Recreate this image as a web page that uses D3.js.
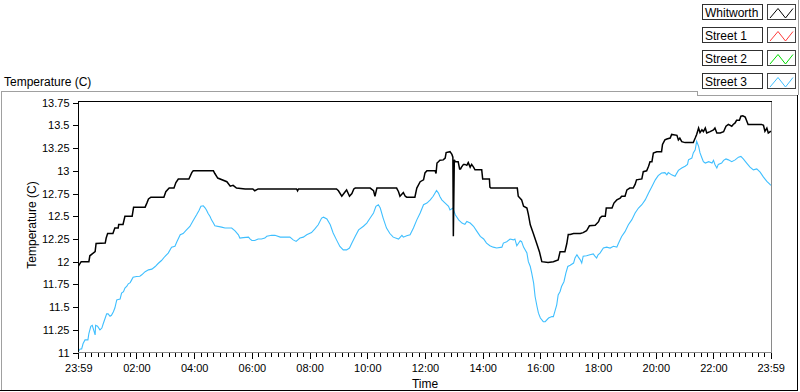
<!DOCTYPE html>
<html>
<head>
<meta charset="utf-8">
<script src="https://cdn.jsdelivr.net/npm/d3@7"></script>
<style>
  html, body { margin: 0; padding: 0; background: #ffffff; }
  svg { display: block; }
  text { font-family: "Liberation Sans", Arial, sans-serif; fill: #000; }
</style>
</head>
<body>
<svg id="chart" width="800" height="392"></svg>
<script>
// ---- data (time in minutes after 00:00; -1 = 23:59 of previous day) ----
const seriesNames = ["Whitworth", "Street 1", "Street 2", "Street 3"];
const seriesColors = ["#000000", "#ff3a3a", "#00dd00", "#3fbfff"];

const whitworth = [
  [-1,11.95],[5,12.0],[21,12.0],[23,12.065],[34,12.11],[36,12.2],[55,12.205],[57,12.26],[60,12.31],[71,12.31],
  [75,12.37],[82,12.37],[83,12.41],[92,12.41],[96,12.5],[111,12.5],[114,12.6],[138,12.6],[142,12.65],[145,12.69],
  [150,12.71],[177,12.71],[181,12.77],[188,12.81],[198,12.81],[202,12.87],[207,12.91],[229,12.91],[235,12.98],[238,13.0],
  [280,13.0],[283,12.97],[289,12.92],[308,12.88],[315,12.83],[321,12.84],[328,12.81],[346,12.8],[362,12.8],[366,12.78],
  [373,12.8],[453,12.8],[455,12.78],[457,12.8],[536,12.8],[540,12.78],[547,12.72],[554,12.77],[557,12.79],[563,12.72],
  [568,12.75],[572,12.8],[575,12.81],[606,12.81],[613,12.78],[616,12.72],[620,12.81],[661,12.81],[665,12.77],[668,12.72],
  [675,12.76],[679,12.72],[682,12.71],[699,12.71],[703,12.81],[710,12.88],[717,12.9],[720,12.976],[724,13.0],[741,13.0],
  [743,12.97],[745,13.085],[748,13.1],[751,13.115],[758,13.12],[762,13.14],[764,13.2],[772,13.21],[776,13.18],[778,13.15],
  [779,12.28],[781,13.12],[783,13.1],[789,13.1],[792,13.02],[794,13.02],[796,13.04],[800,13.07],[803,13.07],[807,13.06],
  [810,13.09],[814,13.04],[817,13.07],[821,13.04],[824,13.01],[838,13.01],[840,12.91],[854,12.91],[855,12.82],[857,12.81],
  [912,12.81],[914,12.72],[921,12.68],[925,12.61],[932,12.59],[935,12.52],[939,12.406],[945,12.315],[952,12.205],[958,12.11],
  [963,12.0],[976,11.99],[987,12.0],[997,12.02],[1001,12.11],[1011,12.11],[1015,12.2],[1018,12.3],[1022,12.3],[1029,12.31],
  [1043,12.31],[1049,12.32],[1056,12.34],[1062,12.395],[1074,12.4],[1081,12.44],[1084,12.48],[1088,12.5],[1095,12.5],[1097,12.59],
  [1109,12.59],[1113,12.645],[1119,12.68],[1126,12.7],[1129,12.72],[1136,12.72],[1140,12.79],[1146,12.81],[1153,12.81],[1157,12.85],
  [1160,12.9],[1171,12.91],[1174,12.99],[1181,13.0],[1185,13.05],[1188,13.1],[1192,13.1],[1195,13.196],[1202,13.21],[1212,13.21],
  [1214,13.29],[1219,13.34],[1223,13.35],[1230,13.36],[1233,13.4],[1244,13.39],[1247,13.34],[1250,13.36],[1254,13.32],[1261,13.31],
  [1278,13.31],[1282,13.36],[1285,13.4],[1289,13.47],[1292,13.42],[1296,13.45],[1299,13.43],[1303,13.47],[1306,13.416],[1313,13.43],
  [1320,13.45],[1323,13.47],[1327,13.416],[1334,13.416],[1341,13.43],[1346,13.49],[1351,13.51],[1358,13.49],[1361,13.51],[1365,13.526],
  [1368,13.555],[1374,13.555],[1377,13.6],[1381,13.605],[1386,13.59],[1389,13.55],[1392,13.51],[1420,13.51],[1424,13.5],[1427,13.434],
  [1431,13.47],[1434,13.416],[1438,13.43],[1439,13.44]
];

const street3 = [
  [0,11.02],[3,11.04],[6,11.04],[9,11.1],[13,11.14],[19,11.14],[21,11.21],[25,11.29],[28,11.3],[32,11.23],
  [34,11.195],[35,11.3],[39,11.29],[44,11.25],[48,11.27],[51,11.32],[55,11.38],[58,11.426],[61,11.426],[65,11.4],
  [68,11.41],[72,11.45],[75,11.49],[79,11.58],[82,11.585],[86,11.59],[89,11.654],[93,11.67],[96,11.71],[100,11.73],
  [103,11.757],[107,11.77],[110,11.8],[113,11.83],[120,11.837],[127,11.84],[131,11.856],[138,11.89],[145,11.91],[152,11.918],
  [159,11.947],[165,11.98],[172,12.013],[179,12.057],[186,12.095],[193,12.16],[200,12.17],[204,12.22],[211,12.296],[217,12.31],
  [224,12.35],[231,12.388],[238,12.454],[245,12.516],[250,12.564],[254,12.61],[259,12.615],[263,12.59],[266,12.564],[269,12.53],
  [273,12.498],[276,12.46],[280,12.425],[283,12.395],[297,12.38],[304,12.37],[318,12.37],[325,12.34],[332,12.296],[335,12.26],
  [342,12.265],[353,12.27],[356,12.25],[360,12.233],[366,12.233],[373,12.25],[380,12.25],[387,12.26],[391,12.28],[401,12.29],
  [408,12.29],[419,12.27],[439,12.27],[446,12.24],[452,12.223],[460,12.26],[467,12.27],[474,12.296],[484,12.32],[491,12.36],
  [498,12.406],[505,12.48],[509,12.49],[516,12.47],[523,12.406],[529,12.315],[536,12.24],[543,12.167],[550,12.13],[557,12.13],
  [563,12.15],[568,12.205],[575,12.28],[582,12.35],[592,12.39],[599,12.425],[606,12.48],[613,12.535],[618,12.61],[623,12.627],
  [627,12.59],[633,12.48],[640,12.37],[647,12.31],[654,12.27],[665,12.249],[672,12.29],[675,12.27],[682,12.285],[689,12.296],
  [696,12.37],[703,12.46],[710,12.535],[717,12.627],[724,12.645],[731,12.68],[737,12.72],[744,12.784],[748,12.755],[751,12.718],
  [755,12.68],[762,12.645],[769,12.61],[772,12.57],[778,12.59],[783,12.516],[790,12.46],[797,12.425],[803,12.41],[807,12.443],
  [814,12.425],[821,12.39],[828,12.333],[835,12.278],[842,12.25],[848,12.205],[855,12.175],[862,12.16],[869,12.15],[880,12.16],
  [883,12.205],[890,12.22],[897,12.249],[904,12.24],[907,12.249],[911,12.175],[918,12.23],[921,12.22],[925,12.16],[932,12.095],
  [935,12.0],[939,11.947],[942,11.874],[946,11.764],[949,11.617],[953,11.507],[956,11.434],[960,11.38],[966,11.34],[970,11.34],
  [977,11.38],[984,11.396],[987,11.396],[990,11.45],[994,11.525],[997,11.635],[1001,11.672],[1004,11.727],[1009,11.78],[1013,11.874],
  [1017,11.947],[1022,11.96],[1029,11.985],[1032,12.04],[1036,12.076],[1039,12.05],[1043,12.02],[1046,11.985],[1049,12.06],[1056,12.065],
  [1063,12.076],[1070,12.085],[1073,12.065],[1077,12.04],[1080,12.076],[1084,12.095],[1091,12.15],[1098,12.16],[1105,12.15],[1112,12.17],
  [1119,12.16],[1122,12.197],[1129,12.278],[1136,12.33],[1143,12.406],[1150,12.46],[1157,12.535],[1164,12.59],[1171,12.627],[1178,12.68],
  [1185,12.755],[1192,12.828],[1199,12.9],[1205,12.946],[1212,12.976],[1219,12.98],[1223,12.955],[1226,12.98],[1233,12.955],[1240,12.94],
  [1247,13.004],[1254,13.03],[1261,13.05],[1266,13.07],[1268,13.12],[1275,13.14],[1278,13.196],[1282,13.23],[1285,13.324],[1289,13.27],
  [1292,13.196],[1296,13.14],[1299,13.1],[1303,13.085],[1310,13.1],[1317,13.085],[1320,13.115],[1323,13.07],[1327,13.03],[1330,13.07],
  [1337,13.085],[1341,13.115],[1346,13.13],[1351,13.12],[1358,13.1],[1365,13.12],[1372,13.15],[1377,13.158],[1382,13.13],[1389,13.085],
  [1396,13.04],[1403,13.01],[1410,13.02],[1417,12.985],[1424,12.93],[1431,12.883],[1438,12.847],[1439,12.84]
];

const yTickValues = [11, 11.25, 11.5, 11.75, 12, 12.25, 12.5, 12.75, 13, 13.25, 13.5, 13.75];
const xTickValues = [-1, 120, 240, 360, 480, 600, 720, 840, 960, 1080, 1200, 1320, 1439];
const xTickLabels = ["23:59","02:00","04:00","06:00","08:00","10:00","12:00","14:00","16:00","18:00","20:00","22:00","23:59"];

// ---- layout ----
const svg = d3.select("#chart");
const plot = { left: 78, top: 101.5, right: 772, bottom: 353 };

const x = d3.scaleLinear().domain([-1, 1439]).range([78.3, 770.7]);
const y = d3.scaleLinear().domain([11, 13.75]).range([352.6, 102.6]);

// outer frame
const frame = svg.append("g").attr("shape-rendering", "crispEdges").attr("fill", "none");
frame.append("path").attr("d", "M1.5,390 V91.5 H697.5 V95.5 H797.5").attr("stroke", "#a0a0a0");
frame.append("path").attr("d", "M798.5,0 V95").attr("stroke", "#a0a0a0");
frame.append("path").attr("d", "M797.5,95 V390.5 H0").attr("stroke", "#000");

// plot background & frame
frame.append("rect").attr("x", plot.left).attr("y", plot.top).attr("width", plot.right - plot.left).attr("height", plot.bottom - plot.top).attr("fill", "#fff");
frame.append("path").attr("d", `M${plot.left + 0.5},${plot.bottom} V${plot.top} H${plot.right}`).attr("stroke", "#000");
frame.append("path").attr("d", `M${plot.right - 0.5},${plot.top} V${plot.bottom - 0.5} H${plot.left}`).attr("stroke", "#8a8a8a");

// top-left label
svg.append("text").attr("x", 4).attr("y", 85.5).attr("font-size", 12).text("Temperature (C)");

// y axis
const yAxis = d3.axisLeft(y).tickValues(yTickValues).tickSize(5).tickPadding(3).tickSizeOuter(0)
  .tickFormat(d => String(d));
const gy = svg.append("g").attr("transform", `translate(${plot.left - 0.5},0)`).call(yAxis);
gy.select(".domain").remove();
gy.selectAll("text").attr("font-size", 11).attr("font-family", "Liberation Sans, Arial, sans-serif").attr("fill", "#000");
gy.selectAll("line").attr("stroke", "#000").attr("shape-rendering", "crispEdges");

// y title
svg.append("text").attr("transform", "translate(36,225) rotate(-90)").attr("text-anchor", "middle")
  .attr("font-size", 12).attr("fill", "#2a0808").text("Temperature (C)");

// x axis minor ticks
const minorTicks = [];
for (let i = 0; i < xTickValues.length - 1; i++) {
  const a = xTickValues[i], b = xTickValues[i + 1];
  for (let k = 1; k < 9; k++) minorTicks.push(a + (b - a) * k / 9);
}
const xMinor = d3.axisBottom(x).tickValues(minorTicks).tickSize(4).tickFormat("").tickSizeOuter(0);
const gxm = svg.append("g").attr("transform", `translate(0,${plot.bottom})`).call(xMinor);
gxm.select(".domain").remove();
gxm.selectAll("line").attr("stroke", "#000").attr("shape-rendering", "crispEdges");

const xAxis = d3.axisBottom(x).tickValues(xTickValues).tickSize(6).tickPadding(5).tickSizeOuter(0)
  .tickFormat((d, i) => xTickLabels[i]);
const gx = svg.append("g").attr("transform", `translate(0,${plot.bottom})`).call(xAxis);
gx.select(".domain").remove();
gx.selectAll("line").attr("stroke", "#000").attr("shape-rendering", "crispEdges");
gx.selectAll("text").attr("font-size", 11).attr("font-family", "Liberation Sans, Arial, sans-serif").attr("fill", "#000");

svg.append("text").attr("x", (plot.left + plot.right) / 2).attr("y", 388).attr("text-anchor", "middle")
  .attr("font-size", 12).text("Time");

// lines
const clip = svg.append("clipPath").attr("id", "plotclip").append("rect")
  .attr("x", plot.left + 1).attr("y", plot.top + 0.5).attr("width", plot.right - plot.left - 1.5).attr("height", plot.bottom - plot.top - 1);
const line = d3.line().x(d => x(d[0])).y(d => y(d[1]));
const gl = svg.append("g").attr("clip-path", "url(#plotclip)");
gl.append("path").datum(street3).attr("d", line).attr("fill", "none").attr("stroke", seriesColors[3]).attr("stroke-width", 1.1);
gl.append("path").datum(whitworth).attr("d", line).attr("fill", "none").attr("stroke", seriesColors[0]).attr("stroke-width", 1.5);

// legend
const lg = svg.append("g");
seriesNames.forEach((name, i) => {
  const top = 4 + i * 23;
  const row = lg.append("g").attr("transform", `translate(0,${top})`);
  row.append("rect").attr("x", 702.5).attr("y", 0.5).attr("width", 60).attr("height", 15)
    .attr("fill", "#fff").attr("stroke", "#303030").attr("shape-rendering", "crispEdges");
  row.append("text").attr("x", 705).attr("y", 12.5).attr("font-size", 12).text(name);
  row.append("rect").attr("x", 767.5).attr("y", 0.5).attr("width", 28).attr("height", 15)
    .attr("fill", "#fff").attr("stroke", "#404040").attr("shape-rendering", "crispEdges");
  row.append("path").attr("d", "M770,14 L778,4.5 L785.5,14 L793,4.5")
    .attr("fill", "none").attr("stroke", seriesColors[i]).attr("stroke-width", 1);
});
</script>
</body>
</html>
